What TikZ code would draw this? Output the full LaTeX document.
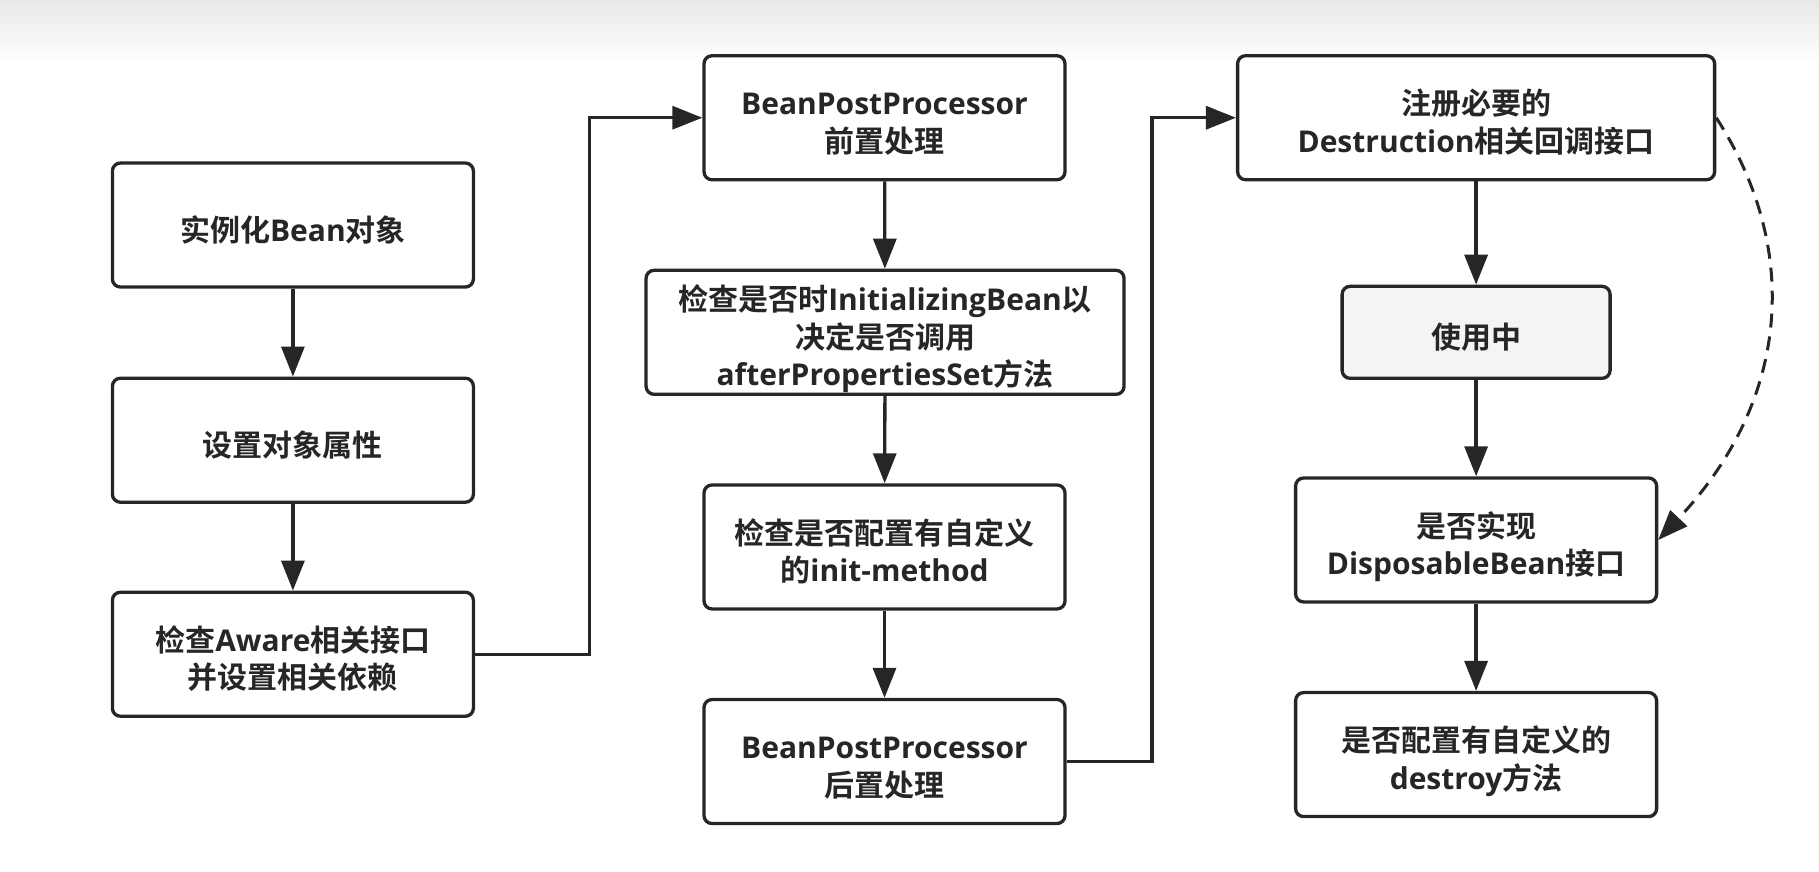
\documentclass[tikz,border=0pt]{standalone}
\usepackage{fontspec}
\setmainfont{Open Sans}
\newfontfamily\zh{Noto Sans CJK SC}[BoldFont={Noto Sans CJK SC Bold}]
\newcommand{\z}[1]{{\zh #1}}
\newcommand{\tx}[1]{\raisebox{-8.5pt}[\height][\depth]{\begin{tabular}{@{}c@{}}#1\end{tabular}}}
\usetikzlibrary{arrows.meta}
\definecolor{ink}{HTML}{262626}
\definecolor{boxfill}{HTML}{F4F4F4}
\begin{document}
\begin{tikzpicture}[x=1.16pt,y=-1.16pt,
  stepbox/.style={draw=ink,line width=3.3pt,rounded corners=8pt,fill=white,
    text=ink,inner sep=0pt,
    font=\fontsize{30}{37.5}\selectfont\bfseries},
  wbox/.style={stepbox,minimum width=361pt,minimum height=124pt},
  flow/.style={draw=ink,line width=3.3pt,-{Triangle[length=30pt,width=23pt]}},
  dflow/.style={draw=ink,line width=3pt,dash pattern=on 14pt off 9pt,-{Triangle[length=30pt,width=23pt]}}]
\useasboundingbox (0,0) rectangle (1568.1,750.9);
\shade[top color=black!9,bottom color=white] (0,0) rectangle (1568.1,55);
% left column
\node[wbox] (A) at (252.5,194) {\tx{\z{实例化}Bean\z{对象}}};
\node[wbox] (B) at (252.5,379.5) {\tx{\z{设置对象属性}}};
\node[wbox] (C) at (252.5,564) {\tx{\z{检查}Aware\z{相关接口}\\\z{并设置相关依赖}}};
% middle column
\node[wbox] (D) at (762.5,101.5) {\tx{BeanPostProcessor\\\z{前置处理}}};
\node[stepbox,minimum width=478pt,minimum height=124pt] (E) at (763,286.5)
  {\tx{\z{检查是否时}InitializingBean\z{以}\\\z{决定是否调用}\\afterPropertiesSet\z{方法}}};
\node[wbox] (F) at (762.5,471.5) {\tx{\z{检查是否配置有自定义}\\\z{的}init-method}};
\node[wbox] (G) at (762.5,656.5) {\tx{BeanPostProcessor\\\z{后置处理}}};
% right column
\node[stepbox,minimum width=477pt,minimum height=124pt] (H) at (1272.5,101.5)
  {\tx{\z{注册必要的}\\Destruction\z{相关回调接口}}};
\node[stepbox,fill=boxfill,minimum width=268pt,minimum height=92pt] (I) at (1272.5,286.5) {\tx{\z{使用中}}};
\node[wbox] (J) at (1272.5,465.5) {\tx{\z{是否实现}\\DisposableBean\z{接口}}};
\node[wbox] (K) at (1272.5,650.5) {\tx{\z{是否配置有自定义的}\\destroy\z{方法}}};
% vertical arrows
\draw[flow] (A) -- (B);
\draw[flow] (B) -- (C);
\draw[flow] (D) -- (E);
\draw[flow] (E) -- (F);
\draw[flow] (F) -- (G);
\draw[flow] (H) -- (I);
\draw[flow] (I) -- (J);
\draw[flow] (J) -- (K);
% elbow connectors
\coordinate (k1) at (508,0);
\coordinate (k2) at (993,0);
\draw[flow] (C.east) -- (C.east -| k1) -- (k1 |- D.west) -- (D.west);
\draw[flow] (G.east) -- (G.east -| k2) -- (k2 |- H.west) -- (H.west);
% dashed curve
\draw[dflow] (H.east) .. controls (1553,215) and (1543,345) .. (J.east);
\end{tikzpicture}
\end{document}
